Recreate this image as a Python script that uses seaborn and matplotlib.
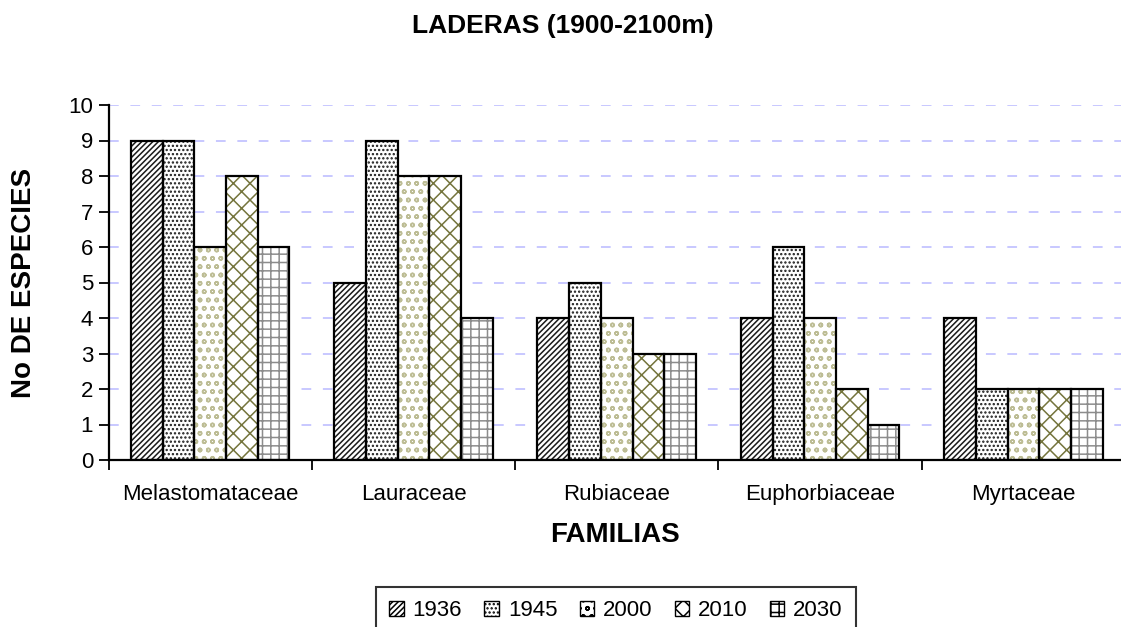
"""
Species count per family, LADERAS (1900-2100m)
"""
import pandas as pd
import matplotlib.pyplot as plt
import seaborn as sns
from matplotlib.patches import Rectangle, Patch

familias = ['Melastomataceae', 'Lauraceae', 'Rubiaceae', 'Euphorbiaceae', 'Myrtaceae']
anios = ['1936', '1945', '2000', '2010', '2030']
v1936 = [9, 5, 4, 4, 4]
v1945 = [9, 9, 5, 6, 2]
v2000 = [6, 8, 4, 4, 2]
v2010 = [8, 8, 3, 2, 2]
v2030 = [6, 4, 3, 1, 2]

hatches = ['//////', '....', 'oo', 'xx', '++']
hatch_colors = ['#1a1a1a', '#1a1a1a', '#bdbd95', '#74743c', '#8c8c8c']

df = pd.DataFrame({
    'Familia': familias * 5,
    'Anio': [a for a in anios for _ in familias],
    'Especies': v1936 + v1945 + v2000 + v2010 + v2030,
})

sns.set_style('white')
plt.rcParams['font.family'] = ['Liberation Sans', 'DejaVu Sans']
plt.rcParams['text.color'] = 'black'
plt.rcParams['axes.labelcolor'] = 'black'
plt.rcParams['xtick.color'] = 'black'
plt.rcParams['ytick.color'] = 'black'
plt.rcParams['hatch.linewidth'] = 1.1

fig = plt.figure(figsize=(11.21, 6.27), dpi=100)
ax = fig.add_axes([108.5 / 1121, 1 - 460 / 627, 1012.5 / 1121, 355 / 627])

sns.barplot(data=df, x='Familia', y='Especies', hue='Anio', order=familias,
            hue_order=anios, width=0.78, palette=['white'] * 5,
            legend=False, ax=ax, saturation=1)

for cont, h, hc in zip(ax.containers, hatches, hatch_colors):
    for p in cont:
        p.set_hatch(h)
        p.set_edgecolor(hc)
        p.set_linewidth(0)
        ax.add_patch(Rectangle(p.get_xy(), p.get_width(), p.get_height(),
                               fill=False, edgecolor='black', linewidth=1.6, zorder=3))

ax.set_ylim(0, 10)
ax.set_xlim(-0.5, 4.48)
ax.set_yticks(range(0, 11))
ax.tick_params(axis='y', labelsize=16, length=7, width=1.3, direction='out', left=True, pad=4)
ax.tick_params(axis='x', which='major', labelsize=16, length=0, pad=17)
ax.set_xticks([i + 0.5 for i in range(-1, 4)], minor=True)
ax.tick_params(axis='x', which='minor', length=7, width=1.3, direction='out', bottom=True)
ax.grid(axis='y', color='#c8c8ff', linestyle=(0, (5, 6)), linewidth=1.4)
ax.set_axisbelow(True)
for s in ['top', 'right']:
    ax.spines[s].set_visible(False)
for s in ['left', 'bottom']:
    ax.spines[s].set_color('black')
    ax.spines[s].set_linewidth(1.6)

ax.set_xlabel('FAMILIAS', fontsize=20, fontweight='bold', va='center')
ax.xaxis.set_label_coords(0.5, (460 - 535) / 355)
ax.set_ylabel('No DE ESPECIES', fontsize=20, fontweight='bold', va='center')
ax.yaxis.set_label_coords((24 - 108.5) / 1012.5, 0.5)
fig.text(563 / 1121, 1 - 26 / 627, 'LADERAS (1900-2100m)', fontsize=19,
         fontweight='bold', ha='center', va='center')

handles = [Patch(facecolor='white', edgecolor=c, hatch=h, linewidth=0)
           for h, c in zip(hatches, hatch_colors)]
leg = fig.legend(handles, anios, loc='upper center',
                 bbox_to_anchor=(616 / 1121, 1 - 587 / 627),
                 ncol=5, frameon=True, fancybox=False, fontsize=16,
                 handlelength=0.65, handleheight=0.65, handletextpad=0.4,
                 columnspacing=1.0, borderpad=0.6, borderaxespad=0)
leg.get_frame().set_edgecolor('black')
leg.get_frame().set_linewidth(1.5)
for hnd in leg.legend_handles:
    hnd.set_linewidth(1.0)
    hnd.set_edgecolor('black')

plt.savefig('out.png', dpi=100)
